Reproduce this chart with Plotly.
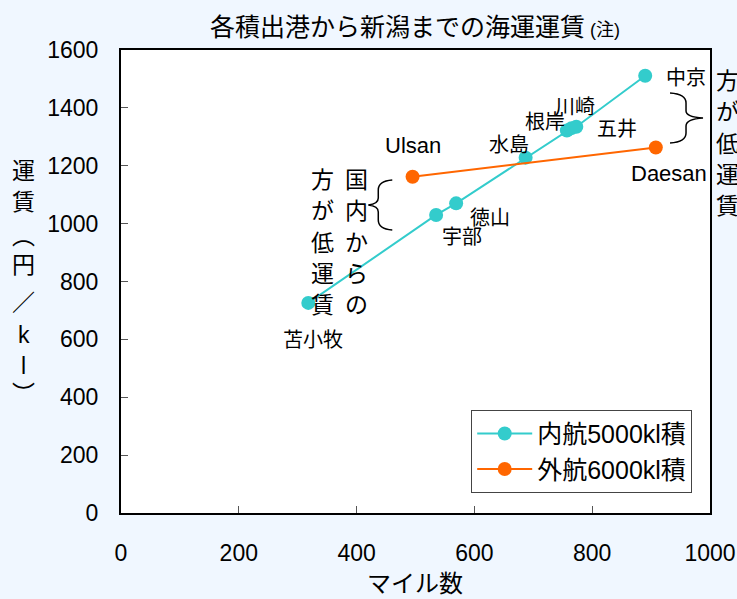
import plotly.graph_objects as go

# ---- data ----
dom_ports = ["苫小牧", "宇部", "徳山", "水島", "根岸", "川崎", "五井", "中京"]
dom_miles = [318, 535, 569, 687, 757, 765, 773, 890]
dom_fare = [726, 1030, 1070, 1228, 1322, 1330, 1335, 1511]

for_ports = ["Ulsan", "Daesan"]
for_miles = [495, 908]
for_fare = [1162, 1263]

series_names = ["内航5000kl積", "外航6000kl積"]
title_text = "各積出港から新潟までの海運運賃"
title_note = "(注)"
x_title = "マイル数"
y_title_chars = ["運", "賃", "︵", "円", "／", "k", "l", "︶"]
note_left = ["国内からの", "方が低運賃"]
note_right = ["方が低運賃"]  # right column of 「海外からの方が低運賃」, the rest is off the image

x_ticks = [0, 200, 400, 600, 800, 1000]
y_ticks = [0, 200, 400, 600, 800, 1000, 1200, 1400, 1600]

# ---- layout geometry (pixels) ----
W, H = 737, 599
L, R, T, B = 120.5, 710.0, 50.0, 513.3
FONT = "Liberation Sans, Arial, Noto Sans CJK JP"
CYAN = "#33CCCC"
ORANGE = "#FF6600"


def xp(px):
    return (px - L) / (R - L)


def yp(py):
    return (B - py) / (B - T)


fig = go.Figure()
fig.add_trace(go.Scatter(x=dom_miles, y=dom_fare, mode="lines+markers", name=series_names[0],
                         line=dict(color=CYAN, width=2), marker=dict(color=CYAN, size=14)))
fig.add_trace(go.Scatter(x=for_miles, y=for_fare, mode="lines+markers", name=series_names[1],
                         line=dict(color=ORANGE, width=2), marker=dict(color=ORANGE, size=14)))

ann = []


def txt(x, y, text, size, xref="paper", yref="paper", dx=0, dy=0):
    ann.append(dict(x=x, y=y, xref=xref, yref=yref, text=text, showarrow=False,
                    xanchor="center", yanchor="middle", xshift=dx, yshift=dy,
                    font=dict(size=size, color="black", family=FONT)))


# point labels (offsets in pixels)
dom_off = [(5, -37), (26, -22), (34, -15), (-17, 13), (-22, 8), (3, 21), (41, -2), (41, -2)]
for name, x, y, (dx, dy) in zip(dom_ports, dom_miles, dom_fare, dom_off):
    txt(x, y, name, 20, "x", "y", dx, dy)
for_off = [(0, 31), (13, -26)]
for name, x, y, (dx, dy) in zip(for_ports, for_miles, for_fare, for_off):
    txt(x, y, name, 22, "x", "y", dx, dy)

# title
txt(xp(415), yp(27), title_text + "<span style='font-size:18px'> " + title_note + "</span>", 25)
# x axis title
txt(xp(415), yp(584), x_title, 24)
# y axis title, vertical
y_pos = [171, 202, 236, 265, 303, 335, 366, 394]
for ch, py in zip(y_title_chars, y_pos):
    txt(xp(23), yp(py), ch, 23)


def vertical(cols, xs, y0, step, size):
    for col, x in zip(cols, xs):
        for i, ch in enumerate(col):
            txt(xp(x), yp(y0 + i * step), ch, size)


vertical(note_left, [356, 322], 180, 31.4, 23)
vertical(note_right, [728], 81, 31.3, 23)


def P(px, py):
    return f"{xp(px):.5f},{yp(py):.5f}"


brace_left = ("M " + P(392, 180) + " Q " + P(378, 181) + " " + P(378, 190) +
              " L " + P(378, 198) + " Q " + P(378, 204) + " " + P(368, 205) +
              " Q " + P(378, 206) + " " + P(378, 212) + " L " + P(378, 220) +
              " Q " + P(378, 229) + " " + P(392, 230))
brace_right = ("M " + P(670, 93) + " Q " + P(686, 94) + " " + P(686, 103) +
               " L " + P(686, 111) + " Q " + P(686, 117) + " " + P(703, 118) +
               " Q " + P(686, 119) + " " + P(686, 126) + " L " + P(686, 133) +
               " Q " + P(686, 142) + " " + P(670, 143))
shapes = [dict(type="path", xref="paper", yref="paper", path=p,
               line=dict(color="black", width=1.5)) for p in (brace_left, brace_right)]

fig.update_layout(
    width=W, height=H,
    margin=dict(l=L, r=W - R, t=T, b=H - B, autoexpand=False),
    paper_bgcolor="#F0F7FF", plot_bgcolor="white",
    font=dict(family=FONT, size=22, color="black"),
    showlegend=True,
    legend=dict(x=xp(471), y=yp(410), xanchor="left", yanchor="top",
                bgcolor="white", bordercolor="#444", borderwidth=1, itemwidth=55,
                font=dict(size=25, family=FONT, color="black")),
    annotations=ann, shapes=shapes,
    xaxis=dict(range=[0, 1000], tickvals=x_ticks, ticks="inside", ticklen=7,
               tickcolor="#555", showline=True, linecolor="black", linewidth=2,
               mirror=True, showgrid=False, zeroline=False, ticklabelstandoff=18,
               tickfont=dict(size=23)),
    yaxis=dict(range=[0, 1600], tickvals=y_ticks, ticks="inside", ticklen=7,
               tickcolor="#555", showline=True, linecolor="black", linewidth=2,
               mirror=True, showgrid=False, zeroline=False, ticklabelstandoff=16,
               tickfont=dict(size=23)),
)

fig.write_html("out.html")
